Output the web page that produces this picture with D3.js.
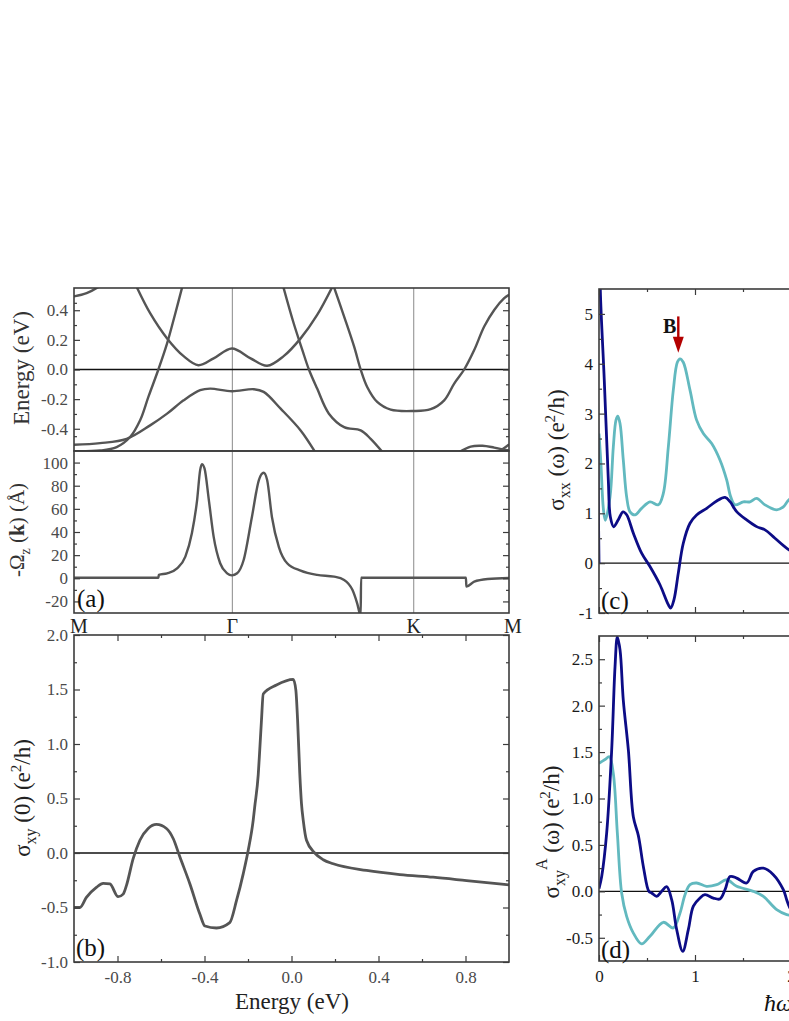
<!DOCTYPE html>
<html><head><meta charset="utf-8">
<script src="https://cdn.jsdelivr.net/npm/d3@7"></script>
<style>
body{margin:0;background:#fff;}
svg{display:block;}
svg text{font-family:'Liberation Serif','Times New Roman',serif;}
</style>
</head><body>
<svg id="chart" width="789" height="1021" font-family="'Liberation Serif', serif"></svg>
<script>
// ---------- DATA ----------
// (a) band structure along M-Γ-K-M (normalised path coordinate k, energy in eV)
const kTicks = [0, 0.364, 0.781, 1.0];
const kLabels = ["M", "Γ", "K", "M"];
const bandValence = [[0,-0.508],[0.060,-0.497],[0.121,-0.468],[0.175,-0.377],[0.214,-0.298],[0.252,-0.208],[0.290,-0.140],[0.313,-0.129],[0.363,-0.147],[0.413,-0.133],[0.436,-0.151],[0.475,-0.264],[0.521,-0.411],[0.555,-0.56]];
const bandSteepLeft = [[0,-0.552],[0.060,-0.547],[0.098,-0.524],[0.129,-0.456],[0.152,-0.343],[0.171,-0.185],[0.194,0],[0.214,0.176],[0.233,0.38],[0.250,0.57]];
const bandConduction = [[0.142,0.57],[0.175,0.38],[0.214,0.21],[0.252,0.09],[0.286,0.029],[0.321,0.075],[0.363,0.142],[0.406,0.075],[0.444,0.025],[0.482,0.09],[0.521,0.21],[0.559,0.368],[0.596,0.57]];
const bandSteepRight = [[0.480,0.57],[0.505,0.312],[0.525,0.131],[0.540,0],[0.559,-0.129],[0.586,-0.298],[0.621,-0.389],[0.659,-0.411],[0.682,-0.468],[0.710,-0.56]];
const bandK = [[0.596,0.57],[0.621,0.357],[0.644,0.154],[0.659,0],[0.674,-0.118],[0.697,-0.219],[0.728,-0.271],[0.780,-0.280],[0.820,-0.268],[0.851,-0.208],[0.874,-0.095],[0.897,0],[0.920,0.131],[0.943,0.29],[0.966,0.402],[0.989,0.481],[1.0,0.504]];
const bandMTop = [[0,0.493],[0.029,0.515],[0.058,0.56]];
const bandBottomR1 = [[0.884,-0.56],[0.912,-0.52],[0.939,-0.515],[0.966,-0.527],[1.0,-0.547]];
const bandBottomR2 = [[0.972,-0.56],[0.989,-0.53],[1.0,-0.506]];
const bandTicks = [-0.4,-0.2,0,0.2,0.4];
// (a) Berry curvature -Ω_z(k) (Å)
const berry = [[0,0.5],[0.194,0.5],[0.195,2.9],[0.214,4.3],[0.237,8.6],[0.256,18.7],[0.271,38.9],[0.283,67.6],[0.290,93.5],[0.294,98.7],[0.300,95],[0.310,67.6],[0.321,36],[0.336,13],[0.352,4.3],[0.363,2.5],[0.375,4.3],[0.390,15.8],[0.409,53],[0.425,84.9],[0.436,91.2],[0.444,84.9],[0.455,53],[0.471,27],[0.490,13],[0.521,6.6],[0.559,2.9],[0.598,1.4],[0.621,-1.4],[0.640,-10],[0.651,-21.6],[0.659,-32],[0.660,0.5],[0.901,0.5],[0.902,-7.2],[0.920,-2.9],[0.951,-0.6],[1.0,0.3]];
const berryTicks = [-20,0,20,40,60,80,100];
// (b) σxy(0) vs energy
const sigma0 = [[-1.0,-0.5],[-0.973,-0.5],[-0.943,-0.407],[-0.897,-0.315],[-0.866,-0.278],[-0.835,-0.284],[-0.797,-0.401],[-0.774,-0.377],[-0.759,-0.299],[-0.728,-0.052],[-0.697,0.117],[-0.659,0.225],[-0.621,0.262],[-0.575,0.225],[-0.544,0.133],[-0.513,-0.037],[-0.467,-0.284],[-0.421,-0.562],[-0.398,-0.670],[-0.345,-0.688],[-0.284,-0.639],[-0.253,-0.438],[-0.222,-0.191],[-0.199,0.025],[-0.176,0.302],[-0.169,0.425],[-0.153,0.716],[-0.146,0.945],[-0.138,1.22],[-0.130,1.459],[-0.069,1.541],[0.008,1.593],[0.020,1.495],[0.028,1.22],[0.038,0.731],[0.046,0.45],[0.054,0.30],[0.069,0.117],[0.107,0.0],[0.146,-0.062],[0.192,-0.099],[0.345,-0.160],[0.498,-0.198],[0.651,-0.222],[0.805,-0.253],[1.0,-0.293]];
const sigma0Ticks = [-1.0,-0.5,0,0.5,1.0,1.5,2.0];
const energyTicks = [-0.8,-0.4,0,0.4,0.8];
// (c) σxx(ω)
const sxxNavy = [[0,0],[0.003,6.5],[0.008,6.5],[0.014,5.46],[0.055,3.67],[0.097,1.67],[0.118,0.93],[0.153,0.73],[0.201,0.87],[0.250,1.03],[0.288,0.97],[0.358,0.6],[0.444,0.2],[0.531,-0.067],[0.635,-0.433],[0.722,-0.833],[0.747,-0.9],[0.781,-0.733],[0.826,-0.2],[0.878,0.4],[0.948,0.8],[1.017,0.967],[1.122,1.1],[1.226,1.247],[1.313,1.32],[1.365,1.233],[1.434,1.033],[1.538,0.867],[1.642,0.733],[1.729,0.667],[1.833,0.5],[1.979,0.267],[2.1,0.15]];
const sxxCyan = [[0,2.6],[0.02,2.0],[0.045,1.1],[0.066,0.86],[0.115,1.33],[0.149,2.33],[0.177,2.87],[0.196,2.95],[0.219,2.8],[0.253,2.07],[0.288,1.33],[0.323,1.03],[0.375,0.97],[0.444,1.1],[0.531,1.23],[0.618,1.17],[0.670,1.4],[0.722,2.33],[0.774,3.47],[0.816,4.03],[0.844,4.1],[0.878,4.03],[0.948,3.47],[1.017,2.87],[1.087,2.6],[1.174,2.4],[1.260,2.07],[1.330,1.67],[1.372,1.33],[1.417,1.17],[1.503,1.23],[1.573,1.23],[1.642,1.3],[1.729,1.17],[1.851,1.07],[1.920,1.13],[1.979,1.27],[2.1,1.4]];
const sxxTicks = [-1,0,1,2,3,4,5];
const arrowOmega = 0.826, arrowFrom = 4.95, arrowTo = 4.22;
// (d) σxy^A(ω)
const sxyNavy = [[0,0.03],[0.028,0.16],[0.08,0.63],[0.132,1.52],[0.167,2.42],[0.191,2.74],[0.219,2.6],[0.253,2.06],[0.306,1.52],[0.358,0.8],[0.41,0.6],[0.465,0.25],[0.52,0.0],[0.549,-0.018],[0.601,-0.054],[0.653,0],[0.705,0.05],[0.757,-0.09],[0.809,-0.41],[0.872,-0.645],[0.931,-0.41],[0.983,-0.16],[1.052,-0.072],[1.104,-0.036],[1.191,-0.072],[1.26,-0.082],[1.313,0.018],[1.365,0.16],[1.434,0.143],[1.538,0.09],[1.608,0.215],[1.712,0.25],[1.816,0.18],[1.92,0.018],[1.955,-0.09],[1.98,-0.16],[2.05,-0.3]];
const sxyCyan = [[0,1.38],[0.0625,1.42],[0.108,1.45],[0.149,1.27],[0.191,0.63],[0.236,-0.018],[0.288,-0.27],[0.358,-0.45],[0.444,-0.566],[0.531,-0.484],[0.670,-0.333],[0.774,-0.394],[0.844,-0.233],[0.896,-0.036],[0.948,0.072],[1.017,0.09],[1.12,0.054],[1.226,0.072],[1.33,0.125],[1.434,0.054],[1.608,0],[1.712,-0.054],[1.851,-0.197],[1.955,-0.25],[2.05,-0.26]];
const sxyTicks = [-0.5,0,0.5,1.0,1.5,2.0,2.5];
const omegaTicks = [0,1,2,3];

// ---------- DRAWING ----------
const svg = d3.select("#chart");
const defs = svg.append("defs");
const FRAME = "#3c3c3c", GRAY = "#555555", NAVY = "#0c0c86", CYAN = "#62b9bf";
const FONT = "'Liberation Serif', 'Times New Roman', serif";
const TICKFS = 17;
const SMOOTH = d3.curveCatmullRom.alpha(0.5), MONO = d3.curveMonotoneX;

function clipRect(id, x0, x1, y0, y1) {
  defs.append("clipPath").attr("id", id).append("rect")
    .attr("x", Math.min(x0,x1)).attr("y", Math.min(y0,y1))
    .attr("width", Math.abs(x1-x0)).attr("height", Math.abs(y1-y0));
}
function styleAxis(g, color) {
  g.select(".domain").remove();
  g.attr("font-family", FONT).attr("font-size", TICKFS);
  g.selectAll("line").attr("stroke", FRAME).attr("stroke-width", 1.2);
  g.selectAll("text").attr("fill", color || "#4a4a4a").style("font-family", FONT);
}
function minorVals(major, n) {
  const out = [];
  for (let i = 0; i < major.length - 1; i++) {
    const step = (major[i+1] - major[i]) / n;
    for (let j = 1; j < n; j++) out.push(major[i] + j*step);
  }
  return out;
}
function vAxes(y, x0, x1, major, minor, fmt, color) {
  svg.append("g").attr("transform", `translate(${x0},0)`)
    .call(d3.axisLeft(y).tickValues(major).tickSize(-6).tickPadding(6).tickFormat(fmt)).call(styleAxis, color);
  svg.append("g").attr("transform", `translate(${x0},0)`)
    .call(d3.axisLeft(y).tickValues(minor).tickSize(-3).tickFormat("")).call(styleAxis);
  svg.append("g").attr("transform", `translate(${x1},0)`)
    .call(d3.axisRight(y).tickValues(major).tickSize(-6).tickFormat("")).call(styleAxis);
  svg.append("g").attr("transform", `translate(${x1},0)`)
    .call(d3.axisRight(y).tickValues(minor).tickSize(-3).tickFormat("")).call(styleAxis);
}
function hAxes(x, y0, y1, major, minor, fmt, color) {
  svg.append("g").attr("transform", `translate(0,${y0})`)
    .call(d3.axisBottom(x).tickValues(major).tickSize(-6).tickPadding(9).tickFormat(fmt || "")).call(styleAxis, color);
  svg.append("g").attr("transform", `translate(0,${y0})`)
    .call(d3.axisBottom(x).tickValues(minor).tickSize(-3).tickFormat("")).call(styleAxis);
  svg.append("g").attr("transform", `translate(0,${y1})`)
    .call(d3.axisTop(x).tickValues(major).tickSize(-6).tickFormat("")).call(styleAxis);
  svg.append("g").attr("transform", `translate(0,${y1})`)
    .call(d3.axisTop(x).tickValues(minor).tickSize(-3).tickFormat("")).call(styleAxis);
}
function frame(x0, x1, y0, y1) {
  svg.append("rect").attr("x", x0).attr("y", y0).attr("width", x1-x0).attr("height", y1-y0)
    .attr("fill", "none").attr("stroke", FRAME).attr("stroke-width", 1.6);
}
function curve(data, x, y, color, clip, w, kind) {
  svg.append("path").datum(data)
    .attr("d", d3.line().x(d => x(d[0])).y(d => y(d[1])).curve(kind || SMOOTH))
    .attr("fill", "none").attr("stroke", color).attr("stroke-width", w || 2.6)
    .attr("stroke-linejoin", "round").attr("clip-path", `url(#${clip})`);
}
function zeroLine(x, y, clip) {
  const [a, b] = x.range();
  svg.append("line").attr("x1", a).attr("x2", b).attr("y1", y(0)).attr("y2", y(0))
    .attr("stroke", "#111").attr("stroke-width", 1.3).attr("clip-path", `url(#${clip})`);
}
function txt(x, y, size, s, opts) {
  const t = svg.append("text").attr("x", x).attr("y", y).attr("font-size", size)
    .style("font-family", FONT).attr("fill", (opts && opts.fill) || "#111").text(s);
  if (opts && opts.anchor) t.attr("text-anchor", opts.anchor);
  if (opts && opts.bold) t.attr("font-weight", "bold");
  if (opts && opts.italic) t.attr("font-style", "italic");
  return t;
}
const f1 = d => d.toFixed(1);
const f0 = d => d.toFixed(0);

// Left column geometry
const L0 = 74, L1 = 509;
const xk = d3.scaleLinear().domain([0, 1]).range([L0, L1]);

// (a) bands
const yBand = d3.scaleLinear().domain([-0.55, 0.55]).range([451, 288]);
clipRect("cBand", L0, L1, 288, 451);
kTicks.slice(1, 3).forEach(k => {
  svg.append("line").attr("x1", xk(k)).attr("x2", xk(k)).attr("y1", 288).attr("y2", 613)
    .attr("stroke", "#8a8a8a").attr("stroke-width", 1);
});
zeroLine(xk, yBand, "cBand");
[bandValence, bandSteepLeft, bandConduction, bandSteepRight, bandK, bandMTop, bandBottomR1, bandBottomR2]
  .forEach(b => curve(b, xk, yBand, GRAY, "cBand", 2.4));
vAxes(yBand, L0, L1, bandTicks, minorVals([-0.5, ...bandTicks, 0.5], 2).filter(v => v > -0.55 && v < 0.55), f1);

// (a) Berry curvature
const yBerry = d3.scaleLinear().domain([-30, 110]).range([613, 451]);
clipRect("cBerry", L0, L1, 451, 613);
curve(berry, xk, yBerry, GRAY, "cBerry", 2.4, MONO);
vAxes(yBerry, L0, L1, berryTicks, minorVals([-40, ...berryTicks, 120], 2).filter(v => v > -30 && v < 110), f0);
frame(L0, L1, 288, 451);
frame(L0, L1, 451, 613);
kTicks.forEach((d, i) => txt(xk(d) + (i === 0 ? 5 : i === 3 ? 4 : 0), 633, 20, kLabels[i], {anchor: "middle", fill: "#222"}));

// (b) σxy(0)
const xE = d3.scaleLinear().domain([-1, 1]).range([L0, L1]);
const yS0 = d3.scaleLinear().domain([-1, 2]).range([962, 635]);
clipRect("cS0", L0, L1, 635, 962);
zeroLine(xE, yS0, "cS0");
curve(sigma0, xE, yS0, GRAY, "cS0", 2.8, MONO);
vAxes(yS0, L0, L1, sigma0Ticks, minorVals(sigma0Ticks, 2), f1);
hAxes(xE, 962, 635, energyTicks, minorVals([-1.2, ...energyTicks, 1.2], 2).filter(v => v > -1 && v < 1), f1);
frame(L0, L1, 635, 962);

// Right column geometry
const R0 = 599;
const xw = d3.scaleLinear().domain([0, 3]).range([R0, R0 + 288]);
// (c)
const yXX = d3.scaleLinear().domain([-1, 5.5]).range([613, 289]);
clipRect("cXX", R0, 900, 289, 613);
zeroLine(xw, yXX, "cXX");
curve(sxxCyan, xw, yXX, CYAN, "cXX", 2.8);
curve(sxxNavy, xw, yXX, NAVY, "cXX", 2.8);
vAxes(yXX, R0, R0 + 288, sxxTicks, minorVals([...sxxTicks, 6], 2).filter(v => v < 5.5), f0, "#1a1a1a");
hAxes(xw, 613, 289, omegaTicks, minorVals(omegaTicks, 2), null);
frame(R0, R0 + 288, 289, 613);
// arrow B
const ax = xw(arrowOmega);
svg.append("line").attr("x1", ax).attr("x2", ax).attr("y1", yXX(arrowFrom)).attr("y2", yXX(arrowTo) - 12)
  .attr("stroke", "#b30000").attr("stroke-width", 2.4);
svg.append("path")
  .attr("d", `M${ax-5.5},${yXX(arrowTo)-16} L${ax+5.5},${yXX(arrowTo)-16} L${ax},${yXX(arrowTo)} Z`)
  .attr("fill", "#b30000");
txt(ax - 2, yXX(arrowFrom) + 17, 20, "B", {anchor: "end", bold: true});

// (d)
const yXY = d3.scaleLinear().domain([-0.75, 2.75]).range([961, 636]);
clipRect("cXY", R0, 900, 636, 961);
zeroLine(xw, yXY, "cXY");
curve(sxyCyan, xw, yXY, CYAN, "cXY", 2.8);
curve(sxyNavy, xw, yXY, NAVY, "cXY", 2.8);
vAxes(yXY, R0, R0 + 288, sxyTicks, minorVals([-1.0, ...sxyTicks, 3.0], 2).filter(v => v > -0.75 && v < 2.75), f1, "#1a1a1a");
hAxes(xw, 961, 636, omegaTicks, minorVals(omegaTicks, 2), f0, "#1a1a1a");
frame(R0, R0 + 288, 636, 961);

// Panel letters
[["(a)", 77, 607], ["(b)", 76, 956], ["(c)", 601, 609], ["(d)", 601, 958]].forEach(([t, x, y]) => txt(x, y, 25, t));

// Axis titles
function rotLabel(x, y, size, parts, color) {
  const t = svg.append("text").attr("transform", `translate(${x},${y}) rotate(-90)`)
    .attr("text-anchor", "middle").attr("font-size", size).style("font-family", FONT).attr("fill", color || "#222");
  parts.forEach(p => {
    const s = t.append("tspan").text(p.t);
    if (p.dy) s.attr("dy", p.dy);
    if (p.fs) s.attr("font-size", p.fs);
    if (p.b) s.attr("font-weight", "bold");
  });
}
rotLabel(29, 368, 23, [{t: "Energy (eV)"}], "#333");
rotLabel(24, 530, 21, [{t: "-Ω"}, {t: "z", dy: 6, fs: 14}, {t: " (", dy: -6}, {t: "k", b: true}, {t: ") (Å)"}], "#333");
rotLabel(30, 798, 23, [{t: "σ"}, {t: "xy", dy: 6, fs: 16}, {t: " (0) (e", dy: -6}, {t: "2", dy: -9, fs: 15}, {t: "/h)", dy: 9}], "#222");
rotLabel(564, 450, 23, [{t: "σ"}, {t: "xx", dy: 6, fs: 16}, {t: " (ω) (e", dy: -6}, {t: "2", dy: -9, fs: 15}, {t: "/h)", dy: 9}], "#222");
rotLabel(559, 832, 23, [{t: "σ"}, {t: "xy", dy: 6, fs: 16}, {t: "A", dy: -18, fs: 16}, {t: " (ω) (e", dy: 12}, {t: "2", dy: -9, fs: 15}, {t: "/h)", dy: 9}], "#222");
txt(292, 1009, 23, "Energy (eV)", {anchor: "middle", fill: "#222"});
txt(764, 1011, 24, "ħω (eV)", {italic: true});
</script>
</body></html>
